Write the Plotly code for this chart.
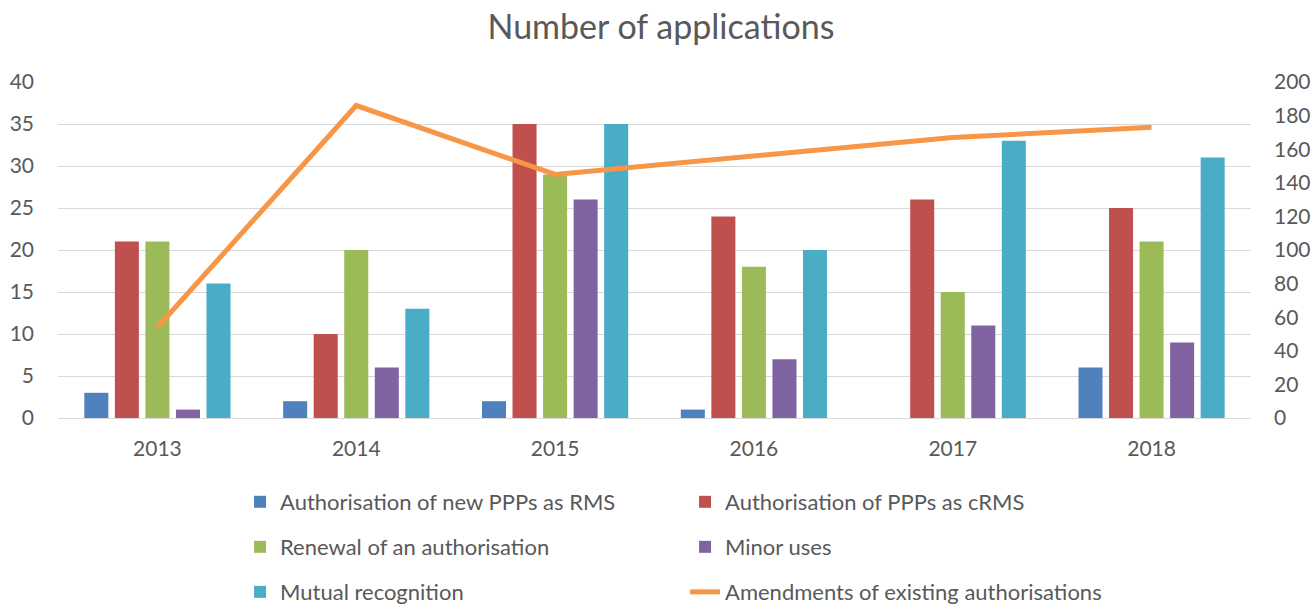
import plotly.graph_objects as go

years = ["2013", "2014", "2015", "2016", "2017", "2018"]
new_rms = [3, 2, 2, 1, 0, 6]
crms = [21, 10, 35, 24, 26, 25]
renewal = [21, 20, 29, 18, 15, 21]
minor = [1, 6, 26, 7, 11, 9]
mutual = [16, 13, 35, 20, 33, 31]
amendments = [54, 186, 145, 156, 167, 173]

bar_series = [
    ("Authorisation of new PPPs as RMS", new_rms, "#4F81BD", "legend"),
    ("Authorisation of PPPs as cRMS", crms, "#C0504D", "legend"),
    ("Renewal of an authorisation", renewal, "#9BBB59", "legend2"),
    ("Minor uses", minor, "#8064A2", "legend2"),
    ("Mutual recognition", mutual, "#4BACC6", "legend3"),
]

fig = go.Figure()
for name, vals, col, lg in bar_series:
    fig.add_trace(go.Bar(x=years, y=vals, name=name, marker_color=col,
                         marker_line_width=0, yaxis="y", legend=lg))
fig.add_trace(go.Scatter(x=years, y=amendments, name="Amendments of existing authorisations",
                         mode="lines", line=dict(color="#F79646", width=5), yaxis="y2",
                         legend="legend3"))

font = "Lato, 'Open Sans', sans-serif"
txt = "#595959"
leg_common = dict(orientation="h", x=0.1526, xanchor="left", yanchor="middle",
                  entrywidth=400, entrywidthmode="pixels",
                  font=dict(size=22, color=txt), bgcolor="rgba(0,0,0,0)")
fig.update_layout(
    width=1314, height=605,
    paper_bgcolor="white", plot_bgcolor="white",
    margin=dict(l=58, r=63, t=82, b=187, autoexpand=False),
    title=dict(text="Number of applications", x=0.503, xanchor="center", y=0.955,
               yanchor="middle", font=dict(family=font, size=34, color=txt)),
    font=dict(family=font, size=21, color=txt),
    barmode="group", bargap=0.232, bargroupgap=0.213,
    xaxis=dict(showgrid=False, showline=True, linecolor="#D9D9D9", linewidth=1,
               ticks="", ticklabelstandoff=12, tickfont=dict(size=21, color=txt)),
    yaxis=dict(range=[0, 40], dtick=5, showgrid=True, gridcolor="#D9D9D9", gridwidth=1,
               zeroline=False, ticks="", ticklabelstandoff=23,
               tickfont=dict(size=21, color=txt)),
    yaxis2=dict(range=[0, 200], dtick=20, overlaying="y", side="right", showgrid=False,
                zeroline=False, ticks="", ticklabelstandoff=22,
                tickfont=dict(size=21, color=txt)),
    legend=dict(y=-0.25, **leg_common),
    legend2=dict(y=-0.384, **leg_common),
    legend3=dict(y=-0.518, **leg_common),
    showlegend=True,
)

fig.write_html("out.html", config={"displayModeBar": False},
               post_script="document.body.style.margin='0';document.body.style.overflow='hidden';")
